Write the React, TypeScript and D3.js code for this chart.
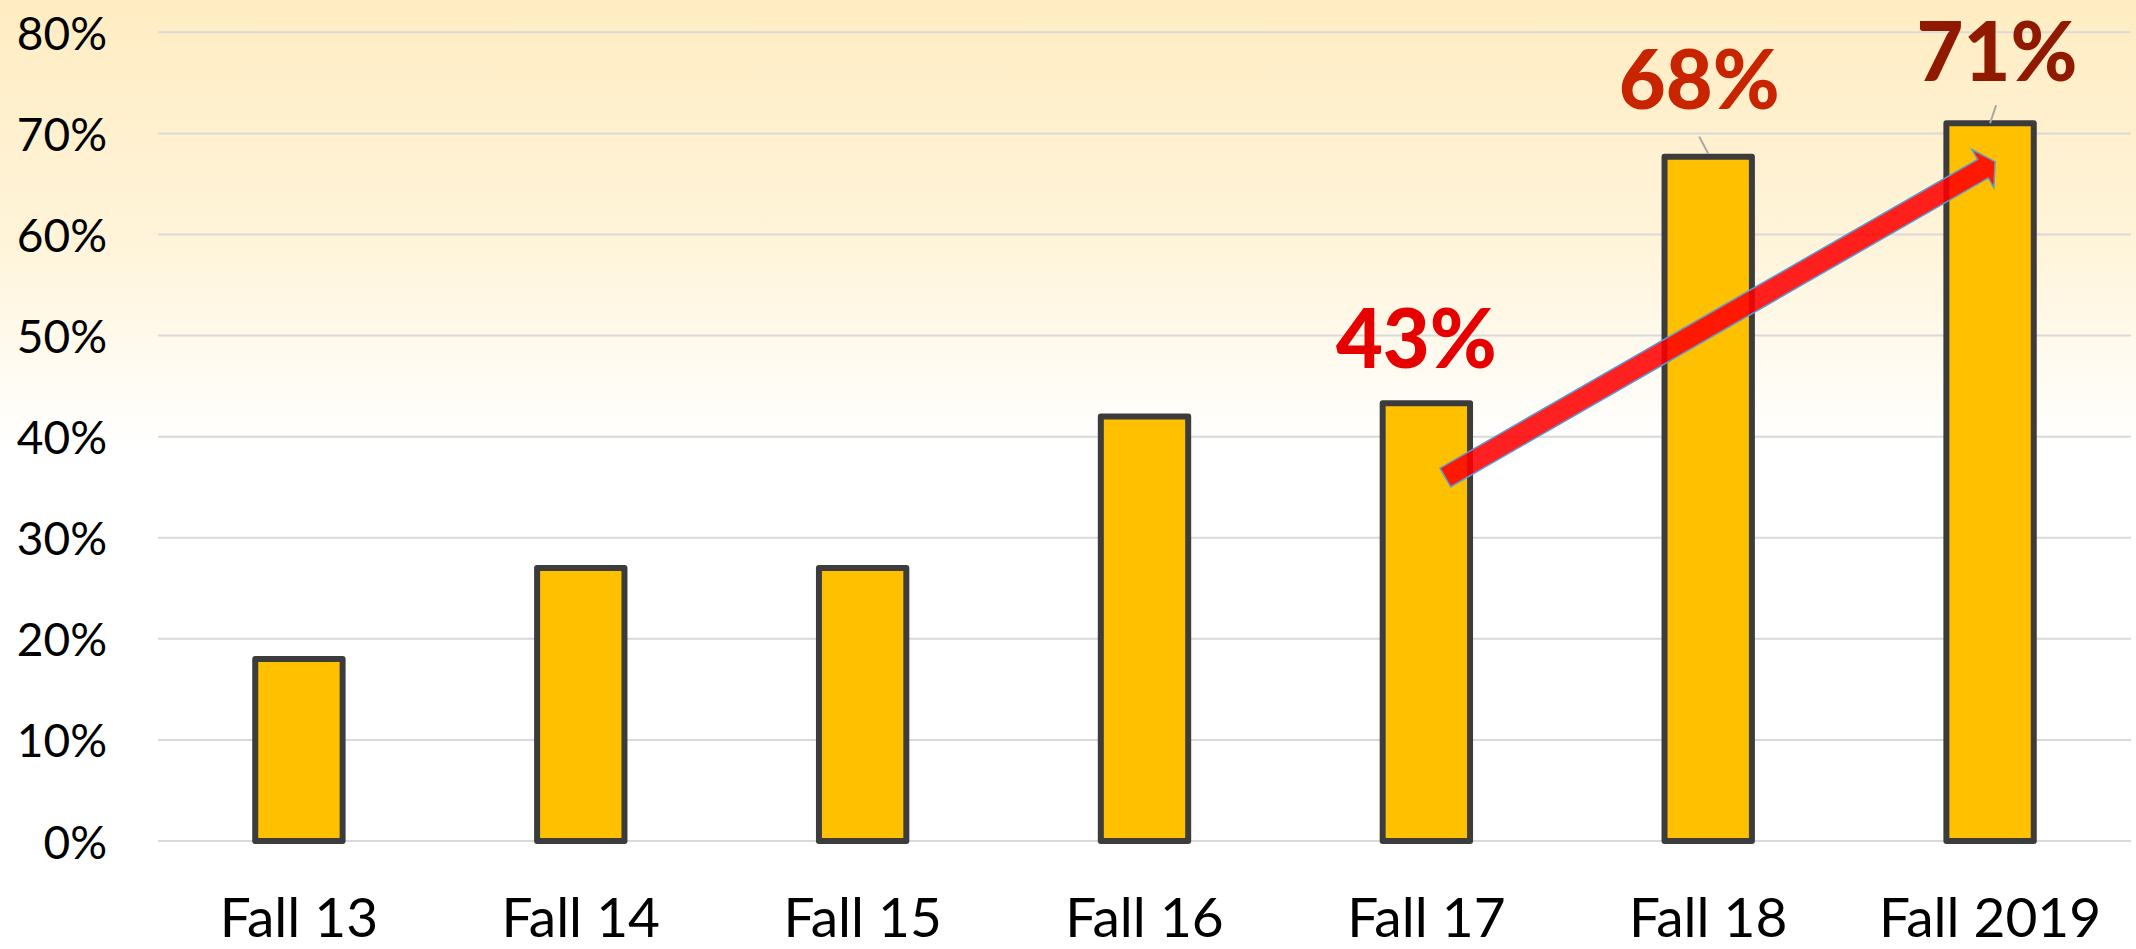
import React from "react";
import * as d3 from "d3";

const categories = ["Fall 13", "Fall 14", "Fall 15", "Fall 16", "Fall 17", "Fall 18", "Fall 2019"];
const values = [18, 27, 27, 42, 43.3, 67.7, 71];
const yTicks = [0, 10, 20, 30, 40, 50, 60, 70, 80];
const labelTexts = ["43%", "68%", "71%"];
const labelCats = ["Fall 17", "Fall 18", "Fall 2019"];

// annotation styling / placement (offsets relative to bar tops)
const labelStyle = [
  { color: "#e60000", dx: -10, dy: -35, leader: null },
  { color: "#c82400", dx: -9, dy: -48, leader: [-9, -20, 0, 0] },
  { color: "#901a00", dx: 7, dy: -42, leader: [6, -18, 0, 3] },
];
// arrow: from (category, value) to (category, value)
const arrowFrom = { cat: "Fall 17", value: 35.96, dx: 19 };
const arrowTo = { cat: "Fall 2019", value: 67.2, dx: 5 };

const W = 2136;
const H = 949;

export default function App() {
  const x = d3
    .scaleBand<string>()
    .domain(categories)
    .range([158, 2131])
    .paddingInner(0.69)
    .paddingOuter(0.345);
  const y = d3.scaleLinear().domain([0, 80]).range([841, 32.3]);
  const cx = (c: string) => (x(c) as number) + x.bandwidth() / 2;

  // arrow geometry
  const tx = cx(arrowFrom.cat) + arrowFrom.dx;
  const ty = y(arrowFrom.value);
  const px = cx(arrowTo.cat) + arrowTo.dx;
  const py = y(arrowTo.value);
  const len = Math.hypot(px - tx, py - ty);
  const ux = (px - tx) / len;
  const uy = (py - ty) / len;
  const nx = -uy;
  const ny = ux;
  const sw = 10.7;
  const hw = 22;
  const hl = 14;
  const bx = px - ux * hl;
  const by = py - uy * hl;
  const pts: [number, number][] = [
    [tx + nx * sw, ty + ny * sw],
    [bx + nx * sw, by + ny * sw],
    [bx + nx * hw, by + ny * hw],
    [px, py],
    [bx - nx * hw, by - ny * hw],
    [bx - nx * sw, by - ny * sw],
    [tx - nx * sw, ty - ny * sw],
  ];
  const arrowPath = d3.line()(pts) + "Z";

  return (
    <svg
      width={W}
      height={H}
      style={{ position: "absolute", left: 0, top: 0, display: "block" }}
      fontFamily="Lato, 'Open Sans', sans-serif"
    >
      <defs>
        <linearGradient id="bg" x1="0" y1="0" x2="0" y2="1">
          <stop offset="0" stopColor="#ffecc2" />
          <stop offset="0.25" stopColor="#fff4d9" />
          <stop offset="0.47" stopColor="#ffffff" />
          <stop offset="1" stopColor="#ffffff" />
        </linearGradient>
      </defs>
      <rect x={0} y={0} width={W} height={H} fill="url(#bg)" />

      {yTicks.map((t) => (
        <g key={t}>
          <line x1={158} x2={2131} y1={y(t)} y2={y(t)} stroke="#d9d9d9" strokeWidth={2} />
          <text x={107} y={y(t)} textAnchor="end" dominantBaseline="central" fontSize={46} fill="#000">
            {t}%
          </text>
        </g>
      ))}

      {categories.map((c, i) => (
        <rect
          key={c}
          x={x(c)}
          y={y(values[i])}
          width={x.bandwidth()}
          height={y(0) - y(values[i])}
          fill="#ffc000"
          stroke="#3c3c3c"
          strokeWidth={6}
          strokeLinejoin="round"
        />
      ))}

      {categories.map((c) => (
        <text key={c} x={cx(c)} y={937} textAnchor="middle" fontSize={55} fill="#000">
          {c}
        </text>
      ))}

      <path d={arrowPath} fill="#ff0000" fillOpacity={0.87} stroke="#5b9bd5" strokeWidth={1.5} strokeLinejoin="miter" />

      {labelTexts.map((t, i) => {
        const c = labelCats[i];
        const st = labelStyle[i];
        const top = y(values[categories.indexOf(c)]);
        const bx0 = cx(c);
        return (
          <g key={t}>
            {st.leader && (
              <line
                x1={bx0 + st.leader[0]}
                y1={top + st.leader[1]}
                x2={bx0 + st.leader[2]}
                y2={top + st.leader[3] - 3}
                stroke="#a6a6a6"
                strokeWidth={2}
              />
            )}
            <text
              x={bx0 + st.dx}
              y={top + st.dy}
              textAnchor="middle"
              fontSize={81}
              fontWeight={900}
              fill={st.color}
            >
              {t}
            </text>
          </g>
        );
      })}
    </svg>
  );
}
